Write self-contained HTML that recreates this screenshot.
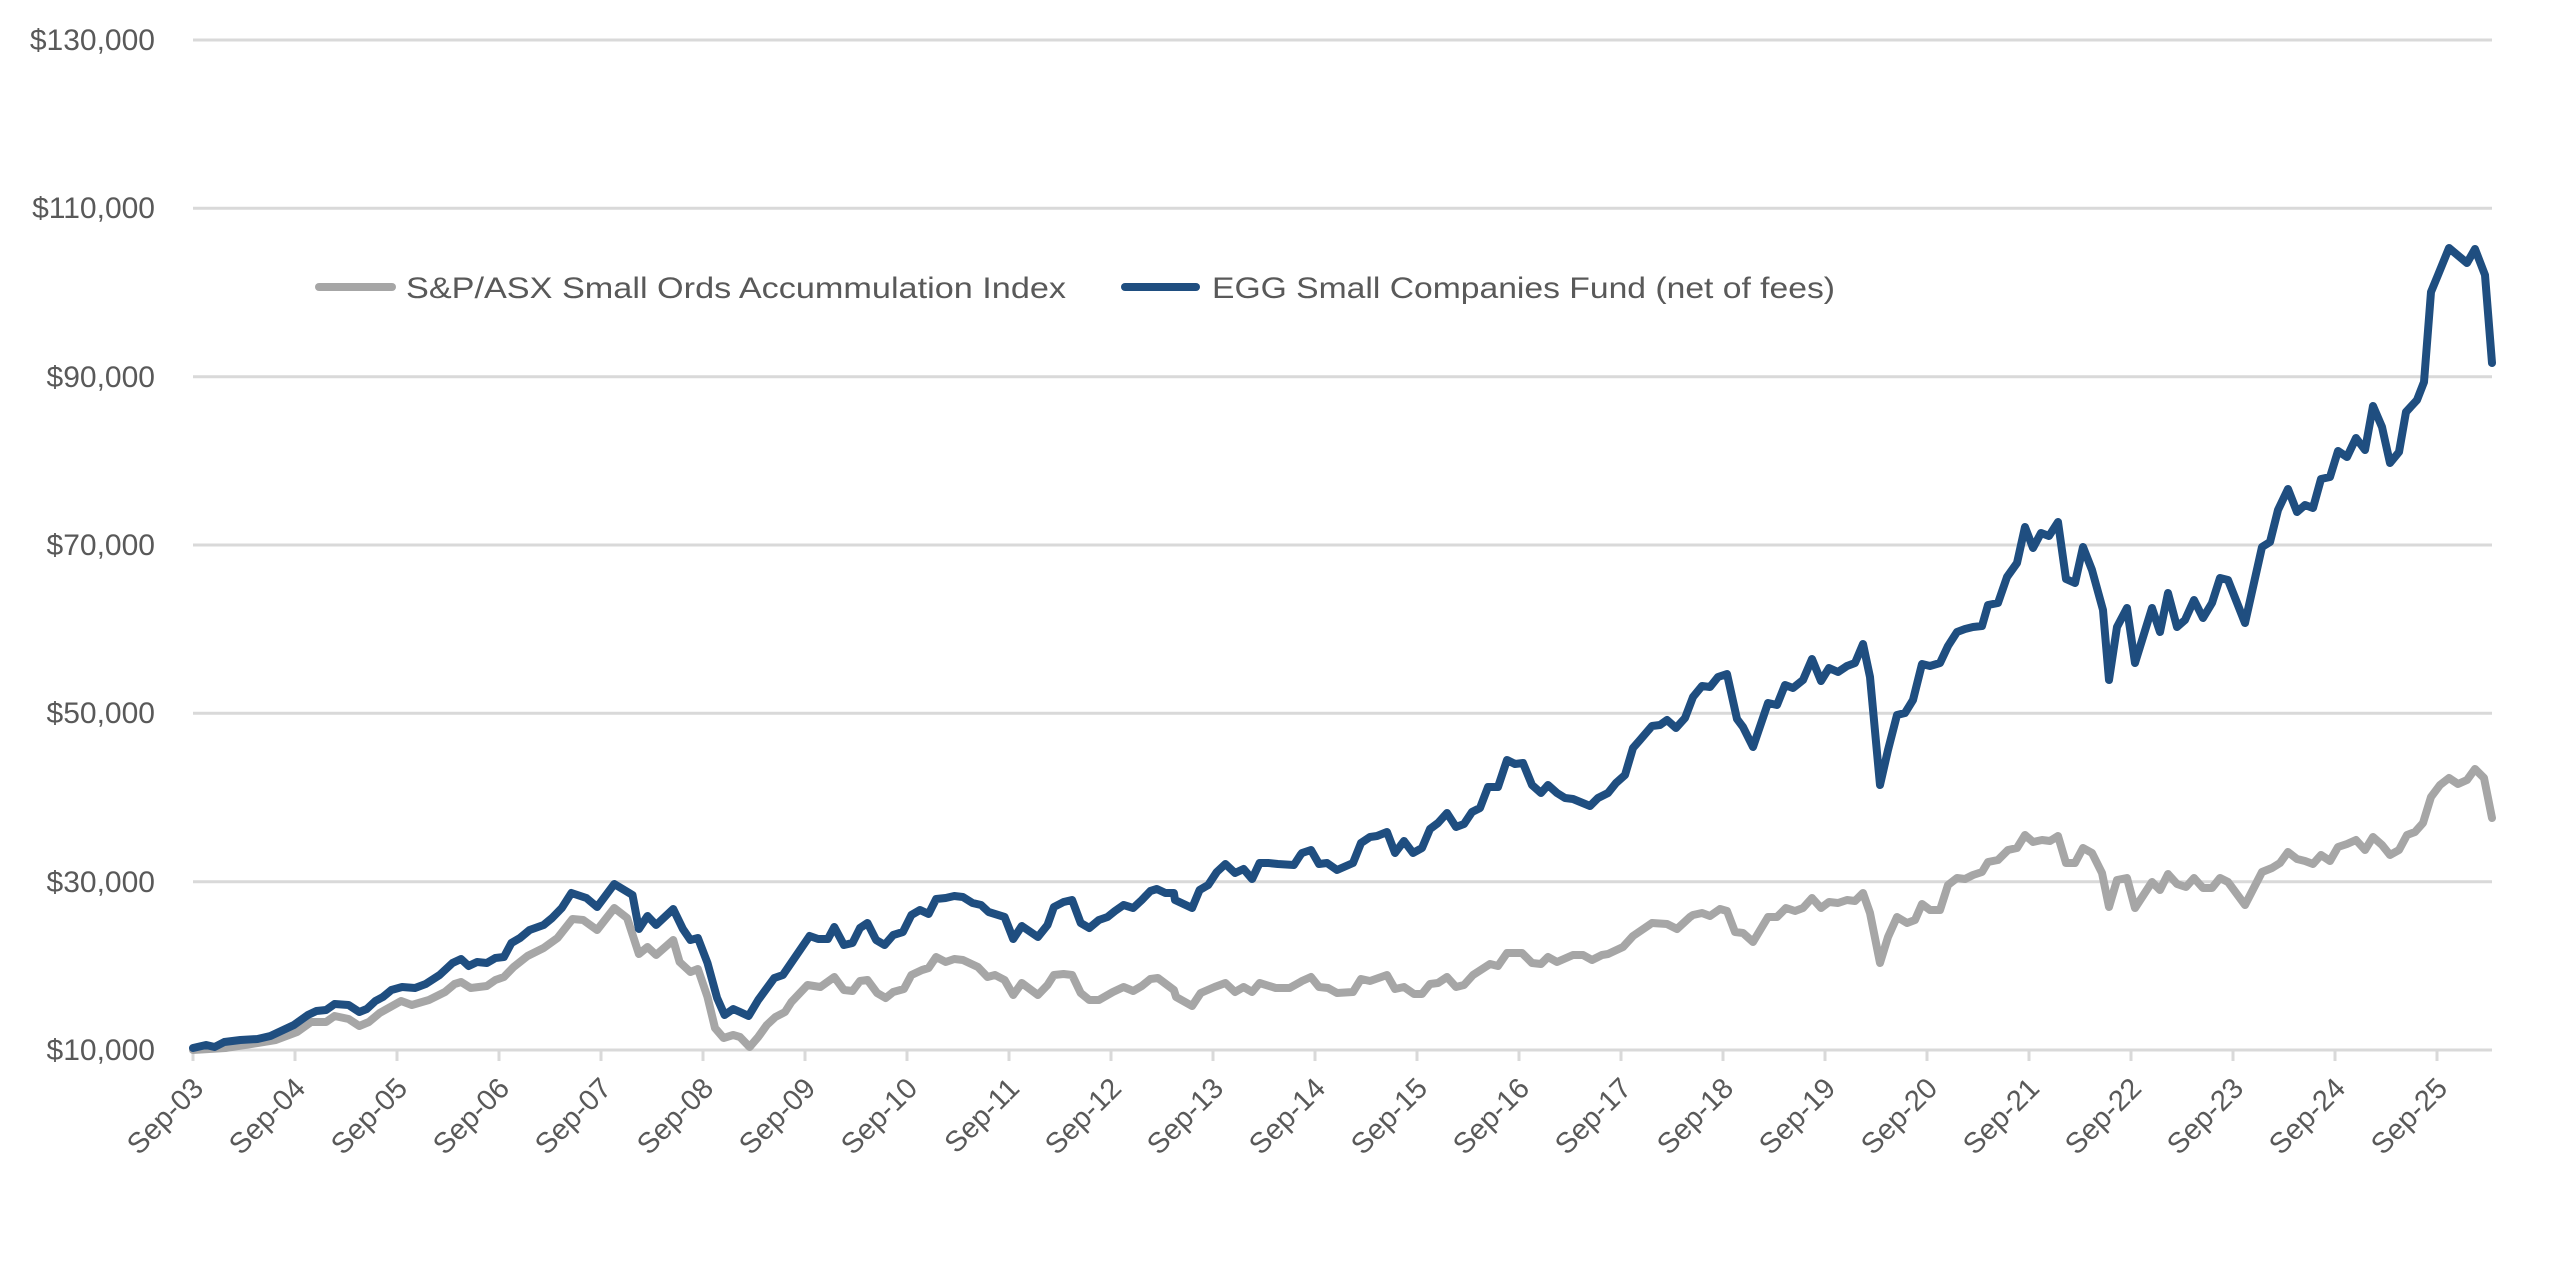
<!DOCTYPE html>
<html><head><meta charset="utf-8"><style>html,body{margin:0;padding:0;background:#fff}svg{display:block}</style></head>
<body>
<svg width="2560" height="1278" viewBox="0 0 2560 1278" xmlns="http://www.w3.org/2000/svg" font-family="'Liberation Sans', sans-serif" fill="#595959">
<g stroke="#d9d9d9" stroke-width="3">
<line x1="193" y1="40" x2="2492" y2="40"/>
<line x1="193" y1="208.3" x2="2492" y2="208.3"/>
<line x1="193" y1="376.7" x2="2492" y2="376.7"/>
<line x1="193" y1="545" x2="2492" y2="545"/>
<line x1="193" y1="713.3" x2="2492" y2="713.3"/>
<line x1="193" y1="881.7" x2="2492" y2="881.7"/>
<line x1="193" y1="1050" x2="2492" y2="1050"/>
</g>
<g stroke="#d9d9d9" stroke-width="3" id="ticks"></g>
<g font-size="30" text-anchor="end">
<text x="155" y="50">$130,000</text>
<text x="155" y="218">$110,000</text>
<text x="155" y="387">$90,000</text>
<text x="155" y="555">$70,000</text>
<text x="155" y="723">$50,000</text>
<text x="155" y="892">$30,000</text>
<text x="155" y="1060">$10,000</text>
</g>
<g id="xl" font-size="29" text-anchor="end"></g>
<polyline id="gray" fill="none" stroke="#a6a6a6" stroke-width="8" stroke-linejoin="round" stroke-linecap="round"/>
<polyline id="blue" fill="none" stroke="#1f4e80" stroke-width="8" stroke-linejoin="round" stroke-linecap="round"/>
<line x1="319" y1="287" x2="392" y2="287" stroke="#a6a6a6" stroke-width="8" stroke-linecap="round"/>
<text x="406" y="298" font-size="30" textLength="660" lengthAdjust="spacingAndGlyphs">S&amp;P/ASX Small Ords Accummulation Index</text>
<line x1="1125" y1="287" x2="1196" y2="287" stroke="#1f4e80" stroke-width="8" stroke-linecap="round"/>
<text x="1212" y="298" font-size="30" textLength="623" lengthAdjust="spacingAndGlyphs">EGG Small Companies Fund (net of fees)</text>
<script>
var ns='http://www.w3.org/2000/svg';
var t=document.getElementById('ticks'),xl=document.getElementById('xl');
for(var i=0;i<=22;i++){var x=193+102*i;
var l=document.createElementNS(ns,'line');l.setAttribute('x1',x);l.setAttribute('x2',x);l.setAttribute('y1',1050);l.setAttribute('y2',1061);t.appendChild(l);
var s=document.createElementNS(ns,'text');var ax=x+12,ay=1090;s.setAttribute('x',ax);s.setAttribute('y',ay);s.setAttribute('transform','rotate(-45 '+ax+' '+ay+')');
var yy=3+i;s.textContent='Sep-'+(yy<10?'0':'')+yy;xl.appendChild(s);}
var z6b="193,1048 205,1045 213,1047 222,1042 237,1040 253,1039 265,1036 277,1030 287,1025 300,1015 308,1011 317,1010 325,1004 338,1005 348,1012 355,1009 363,1001 370,997 378,990 388,987 400,988 410,984 423,975 435,963 443,959 450,966 458,962 467,963 475,958 483,957 490,943 498,938 507,930 520,925 528,918 537,908 546,893 560,898 570,907 586,884 603,895 609,929 617,916 625,925 641,909 650,929 657,940 664,938 673,963 682,998 689,1015 697,1009";
var z7b="740,1012 748,1016 757,1000 772,978 780,975 805,936 813,939 822,939 828,927 837,945 845,943 852,928 859,923 867,940 875,945 883,935 892,932 900,915 908,910 916,914 923,899 932,898 940,896 948,897 957,903 965,905 972,912 987,917 995,939 1003,926 1018,937 1027,925 1033,907 1042,902 1050,900 1058,923 1066,928 1075,920 1083,917 1090,911 1098,905 1107,908 1115,900 1123,891 1129,889 1137,893 1145,893 1146,900 1162,908 1169,890 1177,885 1185,872 1193,864 1202,873 1210,869 1218,879 1225,863 1233,863 1242,864 1257,865 1263,855";
var restb="1302,853 1311,850 1319,864 1327,863 1337,870 1353,863 1361,843 1370,837 1377,836 1387,832 1395,853 1404,841 1413,853 1422,848 1430,829 1438,823 1447,813 1456,827 1464,824 1472,812 1480,808 1488,787 1498,787 1507,760 1515,764 1523,763 1532,785 1541,793 1548,785 1557,793 1565,798 1573,799 1590,806 1598,798 1608,793 1616,783 1625,775 1633,748 1640,740 1652,726 1660,725 1667,720 1676,728 1685,718 1693,697 1702,686 1710,687 1718,677 1727,674 1737,719 1743,727 1753,747 1768,703 1777,705 1785,685 1793,688 1803,680 1812,659 1821,681 1829,668 1838,672 1847,666 1855,663 1863,644 1870,677 1880,785 1888,750 1897,715 1905,713 1913,700 1922,664 1930,666 1940,663 1948,646 1957,632 1965,629 1973,627 1982,626 1988,605 1998,603 2007,577 2017,563 2025,527 2033,548 2041,533 2049,536 2058,522 2066,579 2075,583 2083,547 2092,570 2103,610 2109,680 2117,627 2127,608 2135,663 2152,608 2160,632 2168,593 2177,627 2185,620 2194,600 2203,618 2212,603 2220,578 2228,580 2245,623 2262,547 2270,542 2278,510 2288,489 2297,512 2305,505 2313,508 2321,479 2330,477 2338,451 2347,457 2356,438 2365,450 2373,406 2382,427 2390,463 2399,452 2406,412 2417,400 2424,382 2431,292 2438,275 2449,248 2467,263 2475,249 2485,275 2492,363";
var z6g="193,1050 223,1048 253,1043 270,1040 290,1032 303,1022 317,1022 325,1016 338,1019 348,1026 357,1022 367,1013 387,1001 397,1005 413,1000 428,992 437,984 443,982 452,988 467,986 475,980 483,977 492,967 505,956 520,948 533,938 547,919 557,920 570,930 586,908 598,918 609,954 617,947 625,955 641,940 647,962 657,972 664,969 673,997 680,1028 688,1038 697,1035";
var z7g="740,1037 749,1047 757,1037 765,1025 773,1017 782,1012 788,1002 803,985 815,987 828,977 837,990 845,991 852,981 859,980 868,993 876,998 883,992 893,989 900,975 910,970 916,968 923,957 932,962 940,959 948,960 962,967 971,977 978,975 987,980 995,995 1003,983 1018,995 1027,985 1033,975 1042,974 1050,975 1058,993 1066,1000 1075,1000 1088,992 1098,987 1107,991 1115,986 1123,979 1130,978 1145,990 1147,997 1162,1006 1170,993 1183,987 1193,983 1202,992 1210,987 1218,992 1225,983 1240,988 1253,988 1263,982";
var restg="1302,981 1311,977 1319,987 1328,988 1337,993 1353,992 1361,979 1370,981 1387,975 1395,989 1404,987 1414,994 1422,994 1430,984 1438,983 1447,977 1456,987 1464,985 1473,975 1490,964 1498,966 1507,953 1522,953 1532,963 1541,964 1548,957 1557,962 1573,955 1583,955 1592,960 1602,955 1608,954 1623,947 1633,936 1652,923 1667,924 1677,929 1690,917 1693,915 1702,913 1710,916 1720,909 1727,911 1735,932 1743,933 1753,942 1768,917 1777,917 1786,908 1795,911 1803,908 1812,898 1821,908 1829,902 1838,903 1847,900 1855,901 1863,893 1870,913 1880,963 1888,937 1897,917 1907,923 1915,920 1922,904 1930,910 1940,910 1948,885 1957,878 1965,879 1973,875 1982,872 1988,862 1998,860 2008,850 2017,848 2025,835 2033,842 2042,840 2050,841 2058,836 2066,863 2075,863 2083,848 2092,853 2102,873 2109,907 2117,880 2127,878 2135,908 2152,882 2160,890 2168,874 2177,884 2186,887 2194,878 2203,888 2212,888 2220,878 2228,882 2245,905 2262,872 2272,868 2280,863 2288,852 2297,859 2305,861 2313,864 2321,855 2330,861 2338,847 2347,844 2356,840 2365,850 2373,837 2382,845 2390,855 2399,850 2407,835 2415,832 2423,823 2431,797 2440,785 2449,778 2458,784 2467,780 2475,769 2484,778 2492,818";
function tr(str,x0){return str.split(' ').map(function(p){var a=p.split(',');var x=+a[0];if(x>193)x=x0+(x-x0)*3/2.8;return x.toFixed(1)+','+a[1];}).join(' ');}
document.getElementById('blue').setAttribute('points',tr(z6b,190)+' '+tr(z7b,740)+' '+restb);
document.getElementById('gray').setAttribute('points',tr(z6g,190)+' '+tr(z7g,740)+' '+restg);
</script>
</svg>
</body></html>
